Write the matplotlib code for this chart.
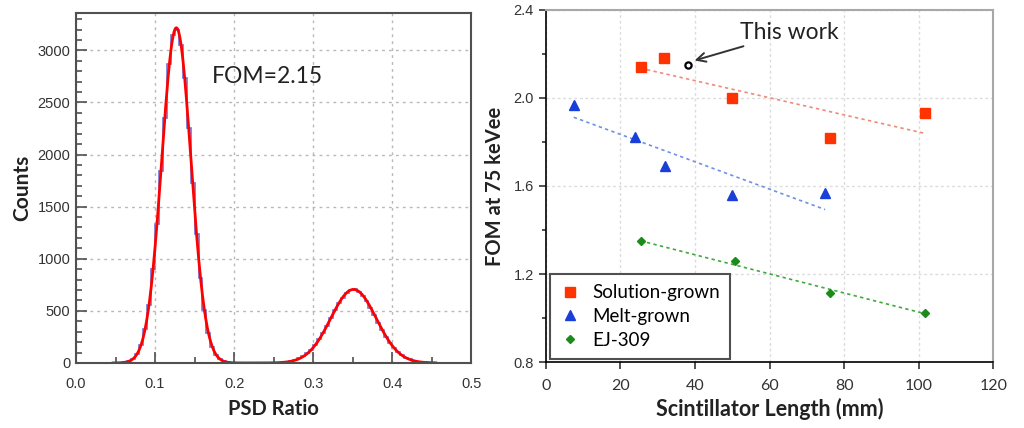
import numpy as np
import matplotlib
matplotlib.use("Agg")
import matplotlib.pyplot as plt
from matplotlib.ticker import MultipleLocator

# PSD histogram: 5e-3 wide bins, counts for the two populated regions
bin_width = 0.005
gamma_start = 0.055
gamma_counts = [3, 7, 18, 42, 89, 177, 330, 560, 905, 1330, 1840, 2350, 2870,
                3150, 3195, 3050, 2730, 2250, 1730, 1240, 820, 510, 290, 156,
                77, 36, 15, 6, 2]
neutron_start = 0.260
neutron_counts = [7, 11, 18, 28, 43, 64, 91, 128, 173, 227, 290, 359, 432, 504,
                  571, 628, 672, 698, 712, 683, 647, 595, 532, 461, 388, 317,
                  251, 194, 145, 105, 74, 51, 34, 22, 13, 8, 5, 3]
fom_text = "FOM=2.15"

# FOM vs scintillator length
sol_len = [25.4, 31.8, 50.0, 76.2, 101.6]
sol_fom = [2.142, 2.179, 2.001, 1.819, 1.930]
melt_len = [7.5, 24.0, 31.9, 50.0, 74.8]
melt_fom = [1.968, 1.824, 1.692, 1.561, 1.566]
ej_len = [25.4, 50.8, 76.2, 101.6]
ej_fom = [1.348, 1.260, 1.115, 1.023]
this_len = [38.1]
this_fom = [2.150]
# trend lines (end points)
sol_trend_len = [25.4, 101.6]
sol_trend_fom = [2.135, 1.839]
melt_trend_len = [7.5, 74.9]
melt_trend_fom = [1.912, 1.493]
ej_trend_len = [25.4, 101.6]
ej_trend_fom = [1.351, 1.020]


def build_hist(start, counts):
    centers = start + bin_width * (np.arange(len(counts)) + 0.5)
    return centers, np.array(counts, dtype=float)


def gauss_fit(x, y):
    # moment estimate of a gaussian peak
    area = y.sum() * bin_width
    mu = np.sum(x * y) / y.sum()
    sig = np.sqrt(np.sum(y * (x - mu) ** 2) / y.sum())
    amp = area / (sig * np.sqrt(2 * np.pi))
    return amp, mu, sig


g_x, g_y = build_hist(gamma_start, gamma_counts)
n_x, n_y = build_hist(neutron_start, neutron_counts)

edges = np.arange(0, 0.5 + bin_width / 2, bin_width)
all_counts = np.zeros(len(edges) - 1)
for cx, cy in ((g_x, g_y), (n_x, n_y)):
    idx = np.round((cx - bin_width / 2) / bin_width).astype(int)
    all_counts[idx] = cy

p1 = gauss_fit(g_x, g_y)
p2 = gauss_fit(n_x, n_y)
xf = np.linspace(0.047, 0.455, 600)
yf = sum(a * np.exp(-(xf - m) ** 2 / (2 * s ** 2)) for a, m, s in (p1, p2))

fig = plt.figure(figsize=(10.24, 4.28), dpi=100)
label_font = "Lato"
tick_font = "Liberation Sans"
tick_col = "#333333"

# ---- left: PSD histogram
ax1 = fig.add_axes([0.0742, 0.152, 0.386, 0.818])
ax1.stairs(all_counts, edges, color="#5a5ad0", lw=1.2, alpha=0.85)
ax1.plot(xf, yf, color="#ff0000", lw=2)
ax1.set_xlim(0, 0.5)
ax1.set_ylim(0, 3360)
ax1.xaxis.set_major_locator(MultipleLocator(0.1))
ax1.xaxis.set_minor_locator(MultipleLocator(0.05))
ax1.yaxis.set_major_locator(MultipleLocator(500))
ax1.yaxis.set_minor_locator(MultipleLocator(100))
ax1.xaxis.set_major_formatter(lambda v, p: f"{v:.1f}")
ax1.tick_params(which="both", direction="in", colors="#505050",
                labelcolor=tick_col, labelsize=10.5, width=1.2,
                labelfontfamily=tick_font)
ax1.tick_params(which="major", length=8)
ax1.tick_params(which="minor", length=4.5)
ax1.tick_params(axis="x", pad=10)
ax1.tick_params(axis="y", pad=4)
ax1.grid(True, which="major", color="#b8b8b8", ls=(0, (2, 3)), lw=1)
for sp in ax1.spines.values():
    sp.set_color("#505050")
    sp.set_linewidth(1.5)
ax1.set_xlabel("PSD Ratio", fontfamily=label_font, fontweight="bold",
               fontsize=14.5, color="#222222", labelpad=6)
ax1.set_ylabel("Counts", fontfamily=label_font, fontweight="bold",
               fontsize=15, color="#222222", labelpad=4)
ax1.text(0.172, 2745, fom_text, fontfamily=label_font, fontsize=16.5,
         color="#222222", va="center")

# ---- right: FOM vs length
ax2 = fig.add_axes([0.533, 0.154, 0.437, 0.823])
ax2.plot(sol_trend_len, sol_trend_fom, color="#f08a78", lw=1.2, ls=(0, (2, 2)))
ax2.plot(melt_trend_len, melt_trend_fom, color="#7090e8", lw=1.2, ls=(0, (2, 2)))
ax2.plot(ej_trend_len, ej_trend_fom, color="#40a840", lw=1.2, ls=(0, (2, 2)))
ax2.plot(sol_len, sol_fom, "s", color="#ff3300", ms=6.5, ls="none",
         label="Solution-grown")
ax2.plot(melt_len, melt_fom, "^", color="#1a3fd8", ms=6.5, ls="none",
         label="Melt-grown")
ax2.plot(ej_len, ej_fom, "D", color="#1b8c1b", ms=4.5, ls="none",
         label="EJ-309")
ax2.plot(this_len, this_fom, "o", mfc="white", mec="black", mew=1.6, ms=4.5,
         ls="none")
ax2.annotate("This work", xy=(this_len[0] + 1.8, this_fom[0] + 0.02),
             xytext=(52.0, 2.295), fontfamily=label_font, fontsize=16.5,
             color="#222222", va="center",
             arrowprops=dict(arrowstyle="->", color="#333333", lw=1.4,
                             shrinkA=0, shrinkB=0, mutation_scale=16))
ax2.set_xlim(0, 120)
ax2.set_ylim(0.8, 2.4)
ax2.xaxis.set_major_locator(MultipleLocator(20))
ax2.yaxis.set_major_locator(MultipleLocator(0.4))
ax2.yaxis.set_minor_locator(MultipleLocator(0.2))
ax2.yaxis.set_major_formatter(lambda v, p: f"{v:.1f}")
ax2.tick_params(which="both", direction="out", colors="#222222",
                labelcolor=tick_col, labelsize=10.5, width=1.1)
ax2.tick_params(which="major", length=5)
ax2.tick_params(which="minor", length=3)
ax2.tick_params(axis="y", labelfontfamily=tick_font)
ax2.tick_params(axis="x", pad=7, labelfontfamily=label_font, labelsize=11.5)
ax2.grid(True, which="major", color="#dcdcdc", ls=(0, (2, 2)), lw=1)
ax2.spines["left"].set_color("black")
ax2.spines["bottom"].set_color("black")
ax2.spines["left"].set_linewidth(1.2)
ax2.spines["bottom"].set_linewidth(1.2)
for side in ("top", "right"):
    ax2.spines[side].set_color("#a8a8a8")
    ax2.spines[side].set_linewidth(1.5)
ax2.set_xlabel("Scintillator Length (mm)", fontfamily=label_font,
               fontweight="bold", fontsize=15.5, color="#222222", labelpad=4)
ax2.set_ylabel("FOM at 75 keVee", fontfamily=label_font, fontweight="bold",
               fontsize=14.5, color="#222222", labelpad=6)
leg = ax2.legend(loc="lower left", bbox_to_anchor=(0.009, 0.009),
                 borderaxespad=0, fancybox=False, framealpha=1,
                 edgecolor="#505050", prop=dict(family=label_font, size=13.5),
                 handlelength=1.0, handletextpad=0.7, labelspacing=0.35,
                 borderpad=0.55)
leg.get_frame().set_linewidth(1.5)

fig.savefig("out.png", dpi=100)
